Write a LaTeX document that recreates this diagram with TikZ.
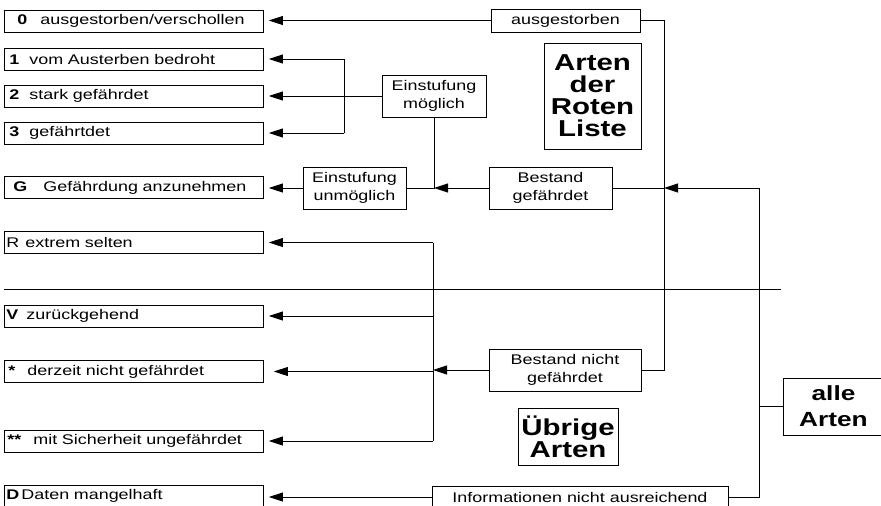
\documentclass[tikz,border=0pt]{standalone}
\usepackage{fontspec}
\setmainfont{Liberation Sans}[FakeStretch=1.28]
\usetikzlibrary{arrows.meta}

\newcommand{\catline}[4]{\hspace*{#1pt}\makebox[\dimexpr#2pt-#1pt\relax][l]{#3}#4}

\begin{document}
\begin{tikzpicture}[x=1pt, y=-1pt, line width=0.9pt,
	lbox/.style={draw, anchor=west, minimum height=22pt, text width=259pt, inner xsep=0pt, inner ysep=0pt, align=left, font=\fontsize{14}{16}\selectfont},
	mbox/.style={draw, minimum height=42pt, inner sep=0pt, align=center, font=\fontsize{14}{18}\selectfont},
	tbox/.style={draw, inner sep=0pt, align=center, font=\fontsize{23}{22}\selectfont\bfseries},
	arr/.style={-{Triangle[length=14pt,width=9pt]}, shorten >=5pt}]
	
	\useasboundingbox (0,0) rectangle (881,506);
	\clip (0,0) rectangle (881,506);
	
	%
	\node[lbox] (k0) at (4,21) {\catline{13}{36}{\textbf{0}}{ausgestorben/verschollen}};
	\node[lbox] (k1) at (4,59) {\catline{5}{25}{\textbf{1}}{vom Austerben bedroht}};
	\node[lbox] (k2) at (4,96) {\catline{5}{25}{\textbf{2}}{stark gefährdet}};
	\node[lbox] (k3) at (4,133) {\catline{5}{25}{\textbf{3}}{gefährtdet}};
	\node[lbox] (kG) at (4,187.5) {\catline{9}{39}{\textbf{G}}{Gefährdung anzunehmen}};
	\node[lbox] (kR) at (4,242.5) {\catline{2}{21}{R}{extrem selten}};
	\node[lbox] (kV) at (4,316) {\catline{2}{22}{\textbf{V}}{zurückgehend}};
	\node[lbox] (kS) at (4,371.5) {\catline{4}{23}{\textbf{*}}{derzeit nicht gefährdet}};
	\node[lbox] (kSS) at (4,441) {\catline{3}{29}{\textbf{**}}{mit Sicherheit ungefährdet}};
	\node[lbox] (kD) at (4,496) {\catline{2}{17}{\textbf{D}}{Daten mangelhaft}};
	
	%
	\node[mbox, minimum width=149pt, minimum height=23pt] (aus) at (565.5,20.5) {ausgestorben};
	\node[mbox, minimum width=104pt] (moegl) at (434,96) {Einstufung\\möglich};
	\node[mbox, minimum width=103pt] (unmoegl) at (354.5,188) {Einstufung\\unmöglich};
	\node[mbox, minimum width=123pt] (bgef) at (550.5,188) {Bestand\\gefährdet};
	\node[mbox, minimum width=152pt] (bnicht) at (565,370) {Bestand nicht\\gefährdet};
	\node[mbox, minimum width=296pt, minimum height=22pt] (info) at (580,497) {Informationen nicht ausreichend};
	
	\node[tbox, minimum width=97pt, minimum height=106pt] (rl) at (592.5,96) {Arten\\der\\Roten\\Liste};
	\node[tbox, minimum width=100pt, minimum height=57pt] (ub) at (568,436.5) {Übrige\\Arten};
	\node[tbox, minimum width=101pt, minimum height=57pt, font=\fontsize{20.5}{26}\selectfont\bfseries] (alle) at (833.5,406.5) {alle\\Arten};
	
	%
	\coordinate (rlspine) at (664,188);
	\coordinate (allspine) at (759,188);
	\coordinate (gspine) at (434,188);
	\coordinate (uspine) at (433,370);
	\coordinate (bracket) at (344,96);
	
	\draw (4,289) -- (781,289);
	
	\draw[arr] (aus.west) -- (aus.west -| k0.east);
	\draw (aus.east) -- (aus.east -| rlspine) -- (bnicht.east -| rlspine) -- (bnicht.east);
	\draw (bgef.east) -- (rlspine);
	\draw[arr, shorten >=0pt] (allspine) -- (rlspine);
	\draw (alle.west) -- (alle.west -| allspine);
	\draw (allspine) -- (info.east -| allspine) -- (info.east);
	\draw[arr] (info.west) -- (info.west -| kD.east);
	
	\draw[arr, shorten >=0pt] (bgef.west) -- (gspine);
	\draw (moegl.south) -- (gspine) -- (unmoegl.east);
	\draw[arr] (unmoegl.west) -- (unmoegl.west -| kG.east);
	\draw[arr] (moegl.west) -- (moegl.west -| k2.east);
	\draw (bracket |- k1.east) -- (bracket |- k3.east);
	\foreach \k in {k1,k3}
		\draw[arr] (bracket |- \k.east) -- (\k.east);
	
	\draw[arr, shorten >=0pt] (bnicht.west) -- (uspine);
	\draw (uspine |- kR.east) -- (uspine |- kSS.east);
	\foreach \k in {kR,kV,kSS}
		\draw[arr] (uspine |- \k.east) -- (\k.east);
	\draw[arr, shorten >=10pt] (uspine |- kS.east) -- (kS.east);
	
\end{tikzpicture}
\end{document}
